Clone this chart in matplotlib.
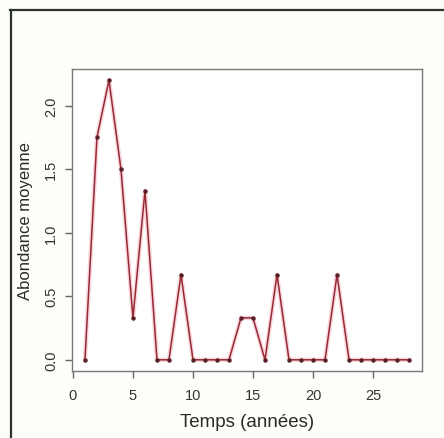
import matplotlib
matplotlib.use("Agg")
import matplotlib.pyplot as plt
from matplotlib.lines import Line2D

years = list(range(1, 29))
abundance = [0, 1.75, 2.2, 1.5, 0.33, 1.33, 0, 0, 0.67, 0, 0, 0, 0, 0.33, 0.33, 0,
             0.67, 0, 0, 0, 0, 0.67, 0, 0, 0, 0, 0, 0]
xticks = [0, 5, 10, 15, 20, 25]
yticks = [0.0, 0.5, 1.0, 1.5, 2.0]
ytick_labels = ["0.0", "0.5", "1.0", "1.5", "2.0"]

plt.rcParams['font.family'] = ['Liberation Sans', 'DejaVu Sans']

W, H = 444, 439
fig = plt.figure(figsize=(W / 100, H / 100), dpi=100)
fig.patch.set_facecolor('#fdfdfa')

# outer frame (top and left edges visible)
fig.add_artist(Line2D([10 / W, 1.0], [1 - 11 / H, 1 - 11 / H], transform=fig.transFigure,
                      color='#2a3326', lw=1.6))
fig.add_artist(Line2D([11 / W, 11 / W], [0, 1 - 11 / H], transform=fig.transFigure,
                      color='#2a3326', lw=1.6))

ax = fig.add_axes([72 / W, 1 - 372 / H, (422 - 72) / W, (372 - 70) / H])
ax.set_facecolor('white')
ax.plot(years, abundance, color='#f4a8b2', lw=3.2, alpha=0.45, zorder=2)
ax.plot(years, abundance, color='#952a36', lw=1.1, marker='o', markersize=2.2,
        markerfacecolor='#5a2028', markeredgecolor='#5a2028', zorder=3)

ax.set_xlim(-0.08, 29.08)
ax.set_ylim(-0.088, 2.288)
ax.set_xticks(xticks)
ax.set_yticks(yticks)
ax.set_yticklabels(ytick_labels, rotation=90, va='center')
for s in ax.spines.values():
    s.set_color('#777777')
    s.set_linewidth(1.0)
ax.tick_params(axis='both', colors='#666666', labelcolor='#333333', labelsize=10.5,
               length=5, width=1.0, direction='out')
ax.tick_params(axis='x', pad=7)
ax.tick_params(axis='y', pad=5)
ax.set_xlabel("Temps (années)", fontsize=13.5, color='#2a2a2a', labelpad=8)
ax.set_ylabel("Abondance moyenne", fontsize=12, color='#2a2a2a', labelpad=8)

fig.savefig("out.png", dpi=100, facecolor=fig.get_facecolor())
